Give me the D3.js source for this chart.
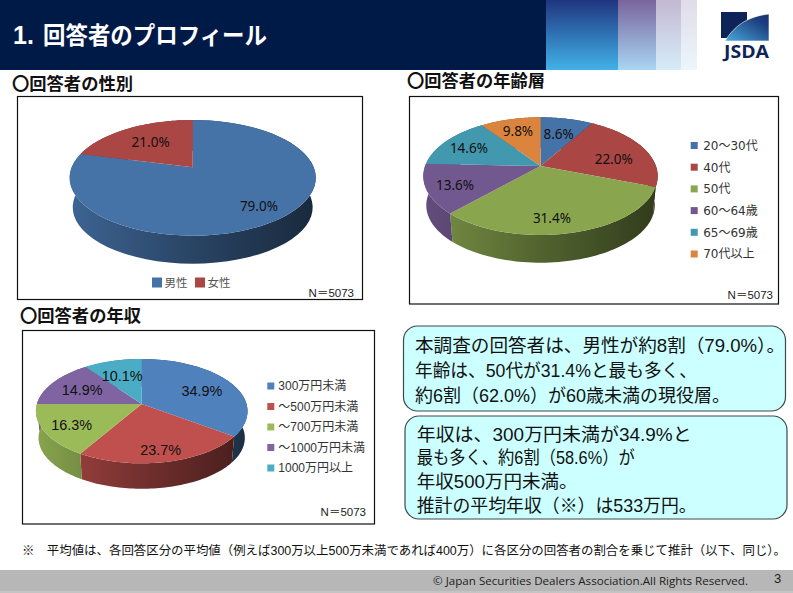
<!DOCTYPE html>
<html>
<head>
<meta charset="utf-8">
<script src="https://d3js.org/d3.v7.min.js"></script>
<style>
  html, body { margin: 0; padding: 0; background: #fff; }
  svg { display: block; }
  text { font-family: "Noto Sans CJK JP", sans-serif; }
</style>
</head>
<body>
<div id="chart"></div>
<script>
// Chart data
const genderLabels = ['男性', '女性'];
const genderValues = [79.0, 21.0];
const ageLabels = ['20～30代', '40代', '50代', '60～64歳', '65～69歳', '70代以上'];
const ageValues = [8.6, 22.0, 31.4, 13.6, 14.6, 9.8];
const incomeLabels = ['300万円未満', '～500万円未満', '～700万円未満', '～1000万円未満', '1000万円以上'];
const incomeValues = [34.9, 23.7, 16.3, 14.9, 10.1];

const sampleLabel = 'N＝5073';
const pageNumberTitle = '1.';
const pageTitle = '回答者のプロフィール';
const footnote = '※　平均値は、各回答区分の平均値（例えば300万以上500万未満であれば400万）に各区分の回答者の割合を乗じて推計（以下、同じ）。';
const copyright = '© Japan Securities Dealers Association.All Rights Reserved.';
const pageNumber = '3';

const summaryOne = ['本調査の回答者は、男性が約8割（79.0%）。', '年齢は、50代が31.4%と最も多く、', '約6割（62.0%）が60歳未満の現役層。'];
const summaryTwo = ['年収は、300万円未満が34.9%と', '最も多く、約6割（58.6%）が', '年収500万円未満。', '推計の平均年収（※）は533万円。'];

// Excel chart palettes
const darkPalette = ['#4572a7', '#aa4643', '#89a54e', '#71588f', '#4198af', '#db843d'];
const lightPalette = ['#4f81bd', '#c0504d', '#9bbb59', '#8064a2', '#4bacc6'];

const width = 793;
const height = 593;

const svg = d3.select('#chart')
    .append('svg')
    .attr('width', width)
    .attr('height', height);
const defs = svg.append('defs');

// Header band
svg.append('rect').attr('width', width).attr('height', 70).attr('fill', '#001a47');
svg.append('rect').attr('x', 697).attr('width', 96).attr('height', 71).attr('fill', '#fff');

const stripes = [
    { x: 546, w: 72, top: '#1f3580', bottom: '#41b2e8' },
    { x: 618, w: 38, top: '#79649c', bottom: '#a9d6f2' },
    { x: 656, w: 25, top: '#c3b9d2', bottom: '#d6ecf9' },
    { x: 681, w: 16, top: '#e0dcea', bottom: '#ecf6fc' }
];
function verticalGradient(id, top, bottom) {
    const g = defs.append('linearGradient').attr('id', id)
        .attr('x1', 0).attr('y1', 0).attr('x2', 0).attr('y2', 1);
    g.append('stop').attr('offset', 0).attr('stop-color', top);
    g.append('stop').attr('offset', 1).attr('stop-color', bottom);
}
stripes.forEach((s, i) => {
    verticalGradient('stripe' + i, s.top, s.bottom);
    svg.append('rect').attr('x', s.x).attr('width', s.w).attr('height', 70)
        .attr('fill', `url(#stripe${i})`);
});

svg.append('text')
    .attr('x', 13).attr('y', 44)
    .attr('font-size', 25).attr('font-weight', 700).attr('fill', '#fff')
    .style('font-family', '"Liberation Sans", sans-serif')
    .text(pageNumberTitle);
svg.append('text')
    .attr('x', 43).attr('y', 44)
    .attr('textLength', 224).attr('lengthAdjust', 'spacingAndGlyphs')
    .attr('font-size', 24).attr('font-weight', 700).attr('fill', '#fff')
    .text(pageTitle);

// JSDA logo
const logoGrad = defs.append('linearGradient').attr('id', 'logoGrad')
    .attr('x1', 0).attr('y1', 1).attr('x2', 1).attr('y2', 0);
logoGrad.append('stop').attr('offset', 0).attr('stop-color', '#4aa8dc');
logoGrad.append('stop').attr('offset', 0.75).attr('stop-color', '#1c3f80');
logoGrad.append('stop').attr('offset', 1).attr('stop-color', '#1a2f6e');
svg.append('rect').attr('x', 721).attr('y', 12).attr('width', 26).attr('height', 26).attr('fill', '#0e2358');
svg.append('path').attr('d', 'M725,41 C734,26 748,16 769,14 L769,41 Z')
    .attr('fill', 'url(#logoGrad)').attr('stroke', '#fff').attr('stroke-width', 0.6);
svg.append('text')
    .attr('x', 724).attr('y', 58)
    .attr('textLength', 45).attr('lengthAdjust', 'spacingAndGlyphs')
    .attr('font-size', 17).attr('font-weight', 700).attr('fill', '#0e2358')
    .style('font-family', '"Open Sans", sans-serif')
    .text('JSDA');

// Section headings
const headings = [
    { text: '〇回答者の性別', x: 12, y: 90, w: 121 },
    { text: '〇回答者の年齢層', x: 407, y: 87, w: 138 },
    { text: '〇回答者の年収', x: 20, y: 322, w: 121 }
];
headings.forEach(h => {
    svg.append('text')
        .attr('x', h.x).attr('y', h.y)
        .attr('textLength', h.w).attr('lengthAdjust', 'spacingAndGlyphs')
        .attr('font-size', 17).attr('font-weight', 700).attr('fill', '#111')
        .text(h.text);
});

// Draws one 3D pie. The disc is a circle seen in perspective: apex is where the
// centre lands, k is the foreshortening towards the viewer.
function drawPie(cfg, values, labels) {
    const g = svg.append('g');
    g.append('rect')
        .attr('x', cfg.frame[0]).attr('y', cfg.frame[1])
        .attr('width', cfg.frame[2]).attr('height', cfg.frame[3])
        .attr('fill', '#fff').attr('stroke', '#111').attr('stroke-width', 1.2);

    const project = (angle, r) => {
        const u = Math.sin(angle) * r;
        const v = -Math.cos(angle) * r;
        const w = 1 - cfg.k * v;
        return [cfg.cx + cfg.R * u / w, cfg.cy + cfg.S * v / w];
    };
    const frontY = cfg.S / (1 - cfg.k);
    const shrink = 0.975;
    const drop = cfg.depth + frontY * (1 - shrink);
    const lower = p => [cfg.cx + (p[0] - cfg.cx) * shrink, cfg.cy + (p[1] - cfg.cy) * shrink + drop];

    const arcs = d3.pie().sort(null).value(d => d)(values);
    const line = d3.line();
    const rim = d => d3.range(0, 61).map(i => project(d.startAngle + (d.endAngle - d.startAngle) * i / 60, 1));
    const halfW = cfg.R * 1.02;

    // Side walls first, the top surface hides whatever is at the back
    arcs.forEach((d, i) => {
        const base = d3.color(cfg.palette[i]);
        const id = `${cfg.id}wall${i}`;
        const grad = defs.append('linearGradient').attr('id', id)
            .attr('gradientUnits', 'userSpaceOnUse')
            .attr('x1', cfg.cx - halfW).attr('y1', 0).attr('x2', cfg.cx + halfW).attr('y2', 0);
        [[0, 0.88], [0.5, 0.6], [1, 0.36]].forEach(([o, f]) => {
            grad.append('stop').attr('offset', o)
                .attr('stop-color', d3.rgb(base.r * f, base.g * f, base.b * f).formatHex());
        });
        const top = rim(d);
        const bottom = top.map(lower).reverse();
        g.append('path')
            .attr('d', line(top.concat(bottom)) + 'Z')
            .attr('fill', `url(#${id})`);
    });

    arcs.forEach((d, i) => {
        const pts = [[cfg.cx, cfg.cy]].concat(rim(d));
        g.append('path')
            .attr('d', line(pts) + 'Z')
            .attr('fill', cfg.palette[i]);
    });

    // Data labels sit around the mid angle, nudged the way Excel placed them
    arcs.forEach((d, i) => {
        const p = project((d.startAngle + d.endAngle) / 2, 0.65);
        g.append('text')
            .attr('x', p[0] + cfg.nudge[i][0])
            .attr('y', p[1] + cfg.nudge[i][1])
            .attr('dy', '0.36em')
            .attr('text-anchor', 'middle')
            .attr('font-size', cfg.labelSize)
            .attr('fill', '#111')
            .style('font-family', cfg.labelFont)
            .text(d.data.toFixed(1) + '%');
    });

    // Legend
    labels.forEach((name, i) => {
        const pos = cfg.legend(i);
        g.append('rect')
            .attr('x', pos[0]).attr('y', pos[1] - cfg.swatch / 2)
            .attr('width', cfg.swatch).attr('height', cfg.swatch)
            .attr('fill', cfg.palette[i]);
        g.append('text')
            .attr('x', pos[0] + cfg.swatch + cfg.legendGap)
            .attr('y', pos[1]).attr('dy', '0.36em')
            .attr('font-size', cfg.legendSize)
            .attr('fill', cfg.legendColor)
            .style('font-family', cfg.legendFont)
            .text(name);
    });

    g.append('text')
        .attr('x', cfg.nPos[0]).attr('y', cfg.nPos[1]).attr('dy', '0.36em')
        .attr('text-anchor', 'end')
        .attr('font-size', 11.5).attr('fill', '#222')
        .style('font-family', '"Liberation Sans", "Noto Sans CJK JP", sans-serif')
        .text(sampleLabel);
}

drawPie({
    id: 'gender', frame: [17.5, 96.5, 345, 203],
    cx: 192.7, cy: 167.3, R: 121, S: 55.9, k: 0.1824, depth: 28,
    palette: darkPalette,
    nudge: [[13, 7], [2, 1]],
    labelSize: 13.5, labelFont: '"Noto Sans", sans-serif',
    swatch: 10, legendGap: 2.5, legendSize: 11.5, legendColor: '#555',
    legendFont: '"Noto Sans CJK JP", sans-serif',
    legend: i => [152 + i * 43, 282.5],
    nPos: [354, 292.5]
}, genderValues, genderLabels);

drawPie({
    id: 'age', frame: [409.5, 96.5, 369, 207.5],
    cx: 540.5, cy: 166, R: 115.4, S: 57.1, k: 0.1724, depth: 27.7,
    palette: darkPalette,
    nudge: [[0, 0], [5, 5], [-8, 12], [-13, 4], [-9, -1], [-2, -3]],
    labelSize: 13.5, labelFont: '"Noto Sans", sans-serif',
    swatch: 7, legendGap: 5.5, legendSize: 12, legendColor: '#333',
    legendFont: '"DejaVu Sans", "Noto Sans CJK JP", sans-serif',
    legend: i => [690.7, 145.5 + i * 21.7],
    nPos: [773, 295]
}, ageValues, ageLabels);

drawPie({
    id: 'income', frame: [22.5, 330.5, 352, 193.5],
    cx: 141.7, cy: 404, R: 104.8, S: 51.2, k: 0.137, depth: 25.4,
    palette: lightPalette,
    nudge: [[2, 1], [4, 10], [-8, 4], [-1, 0], [0, 1]],
    labelSize: 14.4, labelFont: '"Liberation Sans", sans-serif',
    swatch: 7, legendGap: 4, legendSize: 12, legendColor: '#333',
    legendFont: '"Liberation Sans", "Noto Sans CJK JP", sans-serif',
    legend: i => [267.3, 386 + i * 20.5],
    nPos: [366, 512]
}, incomeValues, incomeLabels);

// Summary boxes
function drawBox(x, y, w, h, textX, lines, lineY, lineW) {
    svg.append('rect')
        .attr('x', x).attr('y', y).attr('width', w).attr('height', h)
        .attr('rx', 14).attr('ry', 14)
        .attr('fill', '#ccffff').attr('stroke', '#3a4a4a').attr('stroke-width', 1.2);
    lines.forEach((t, i) => {
        svg.append('text')
            .attr('x', textX).attr('y', lineY[i]).attr('dy', '0.36em')
            .attr('textLength', lineW[i]).attr('lengthAdjust', 'spacingAndGlyphs')
            .attr('font-size', 18.5).attr('fill', '#111')
            .style('font-family', '"Liberation Sans", "Noto Sans CJK JP", sans-serif')
            .text(t);
    });
}
drawBox(403.5, 326, 382, 85, 415, summaryOne, [345, 370, 395], [370, 282, 315]);
drawBox(405, 416, 382, 103, 416.7, summaryTwo, [434.5, 457, 481, 505], [275, 218, 161, 280]);

// Footnote and footer band
svg.append('text')
    .attr('x', 22).attr('y', 550).attr('dy', '0.36em')
    .attr('textLength', 764).attr('lengthAdjust', 'spacingAndGlyphs')
    .attr('font-size', 12.5).attr('fill', '#111')
    .style('font-family', '"Liberation Sans", "Noto Sans CJK JP", sans-serif')
    .text(footnote);

svg.append('rect').attr('y', 570).attr('width', width).attr('height', 21).attr('fill', '#b7b7b7');
svg.append('rect').attr('y', 591).attr('width', width).attr('height', 2).attr('fill', '#c4c4c4');
svg.append('text')
    .attr('x', 433).attr('y', 581).attr('dy', '0.36em')
    .attr('textLength', 315).attr('lengthAdjust', 'spacingAndGlyphs')
    .attr('font-size', 11).attr('fill', '#222')
    .style('font-family', '"Open Sans", sans-serif')
    .text(copyright);
svg.append('text')
    .attr('x', 774).attr('y', 578).attr('dy', '0.36em')
    .attr('font-size', 13).attr('fill', '#222')
    .style('font-family', '"Liberation Sans", sans-serif')
    .text(pageNumber);
</script>
</body>
</html>
